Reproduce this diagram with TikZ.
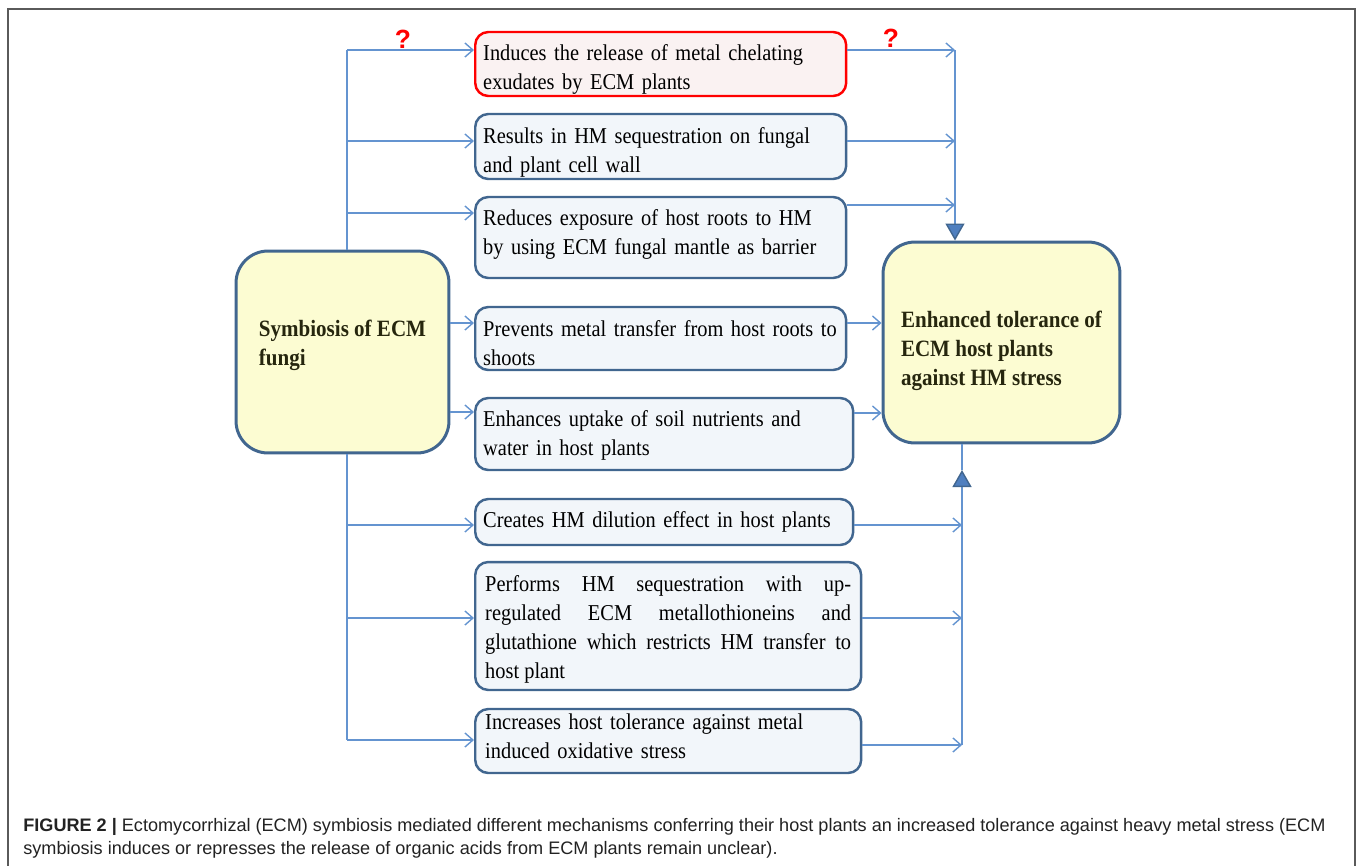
\documentclass[tikz,border=0pt]{standalone}
\usepackage{fontspec}
\setmainfont[FakeStretch=0.9]{Liberation Serif}
\setsansfont{Liberation Sans}
\newfontfamily\capfont{Liberation Sans}
\usetikzlibrary{arrows.meta}

\definecolor{boxline}{HTML}{41668F}
\definecolor{boxfill}{HTML}{F2F6FA}
\definecolor{redfill}{HTML}{FAF2F2}
\definecolor{mainfill}{HTML}{FCFCD2}
\definecolor{maintext}{HTML}{26260E}
\definecolor{linkblue}{HTML}{6494D0}
\definecolor{tipfill}{HTML}{4F7FBF}
\definecolor{framegray}{HTML}{5A5A5A}
\definecolor{captext}{HTML}{222222}

% one justified line of a box
\newcommand{\jline}[1]{\makebox[7.32cm][s]{#1}}
% nudge the text of a box down / up
\newcommand{\pushdown}[1]{\rule{0pt}{#1}}
\newcommand{\pullup}[1]{\rule[-#1]{0pt}{#1}}

\tikzset{
  mech/.style={draw=boxline, fill=boxfill, line width=1.4pt, rounded corners=0.26cm,
    anchor=west, align=left, inner xsep=0.16cm, inner ysep=0pt, font=\fontsize{12.9}{16.5}\selectfont},
  mainbox/.style={draw=boxline, fill=mainfill, line width=1.7pt, rounded corners=0.64cm,
    align=left, text=maintext, font=\fontsize{13.3}{16.5}\selectfont\bfseries},
  link/.style={draw=linkblue, line width=0.8pt},
  conn/.style={link, -{Straight Barb[length=1.6mm,width=2.8mm]}},
  trunk/.style={link, -{Triangle[length=3.4mm,width=3.8mm,fill=tipfill,color=boxline]}},
  qmark/.style={text=red, font=\sffamily\bfseries\fontsize{15}{15}\selectfont}
}

\begin{document}
\begin{tikzpicture}[x=0.02cm, y=-0.02cm]
  \useasboundingbox (0,0) rectangle (1357,866);
  \draw[framegray, line width=1.1pt] (8,866) -- (8,9) -- (1355,9) -- (1355,866);

  % main boxes
  \node[mainbox, minimum width=4.26cm, minimum height=4.04cm] (fungi) at (342.5,352)
    {Symbiosis of ECM\\fungi\pullup{0.38cm}};
  \node[mainbox, minimum width=4.74cm, minimum height=4.02cm] (tol) at (1001.5,342.5)
    {\pushdown{0.68cm}Enhanced tolerance of\\ECM host plants\\against HM stress};

  % mechanisms
  \node[mech, draw=red, fill=redfill, text width=7.1cm, minimum height=1.28cm] (exud) at (474,64)
    {\pushdown{0.55cm}Induces the release of metal chelating\\exudates by ECM plants};
  \node[mech, text width=7.1cm, minimum height=1.3cm] (wall) at (474,146.5)
    {\pushdown{0.55cm}Results in HM sequestration on fungal\\and plant cell wall};
  \node[mech, text width=7.1cm, minimum height=1.62cm] (mantle) at (474,237.5)
    {Reduces exposure of host roots to HM\\by using ECM fungal mantle as barrier\pullup{0.22cm}};
  \node[mech, text width=7.1cm, minimum height=1.26cm] (transfer) at (474,338.5)
    {\pushdown{0.51cm}Prevents metal transfer from host roots to\\shoots};
  \node[mech, text width=7.24cm, minimum height=1.44cm] (uptake) at (474,434)
    {\pushdown{0.39cm}Enhances uptake of soil nutrients and\\water in host plants};
  \node[mech, text width=7.24cm, minimum height=0.92cm] (dilution) at (474,522)
    {Creates HM dilution effect in host plants};
  \node[mech, align=justify, text width=7.32cm, inner xsep=0.2cm, minimum height=2.56cm] (mt) at (474,626)
    {\pushdown{0.47cm}\jline{Performs HM sequestration with up-}\\\jline{regulated ECM metallothioneins and}\\
     \jline{glutathione which restricts HM transfer to}\\host plant};
  \node[mech, text width=7.32cm, inner xsep=0.2cm, minimum height=1.28cm] (oxid) at (474,741)
    {Increases host tolerance against metal\\induced oxidative stress\pullup{0.2cm}};

  % left side
  \coordinate (ltop) at (347,50);
  \coordinate (lbot) at (347,740);
  \draw[link] (347,0 |- fungi.north) -- (ltop);
  \draw[link] (347,0 |- fungi.south) -- (lbot);
  \draw[conn] (ltop) -- (exud.west |- ltop);
  \foreach \n/\y in {wall/141, mantle/213, dilution/525, mt/618, oxid/740}
    \draw[conn] (347,\y) -- (\n.west |- 0,\y);
  \foreach \n/\y in {transfer/323, uptake/412}
    \draw[conn] (fungi.east |- 0,\y) -- (\n.west |- 0,\y);

  % right side
  \coordinate (rtop) at (955,50);
  \coordinate (rbot) at (962,745);
  \coordinate (rmid) at (962,470);
  \draw[trunk] (rtop) -- (rtop |- tol.north);
  \draw[trunk] (rbot) -- (rmid);
  \draw[link] (rmid) -- (rmid |- tol.south);
  \foreach \n/\y in {exud/50, wall/141, mantle/205}
    \draw[conn] (\n.east |- 0,\y) -- (955,\y);
  \foreach \n/\y in {transfer/323, uptake/413}
    \draw[conn] (\n.east |- 0,\y) -- (tol.west |- 0,\y);
  \foreach \n/\y in {dilution/525, mt/618, oxid/745}
    \draw[conn] (\n.east |- 0,\y) -- (962,\y);

  \node[qmark] (q1) at (403,39) {?};
  \node[qmark] (q2) at (891,38) {?};

  % caption
  \node[anchor=base west, align=left, inner sep=0pt, text=captext, font=\capfont\fontsize{10.3}{12.6}\selectfont] (caption) at (23,854)
    {\textbf{FIGURE 2 |} Ectomycorrhizal (ECM) symbiosis mediated different mechanisms conferring their host plants an increased tolerance against heavy metal stress (ECM\\
     symbiosis induces or represses the release of organic acids from ECM plants remain unclear).};
\end{tikzpicture}
\end{document}
